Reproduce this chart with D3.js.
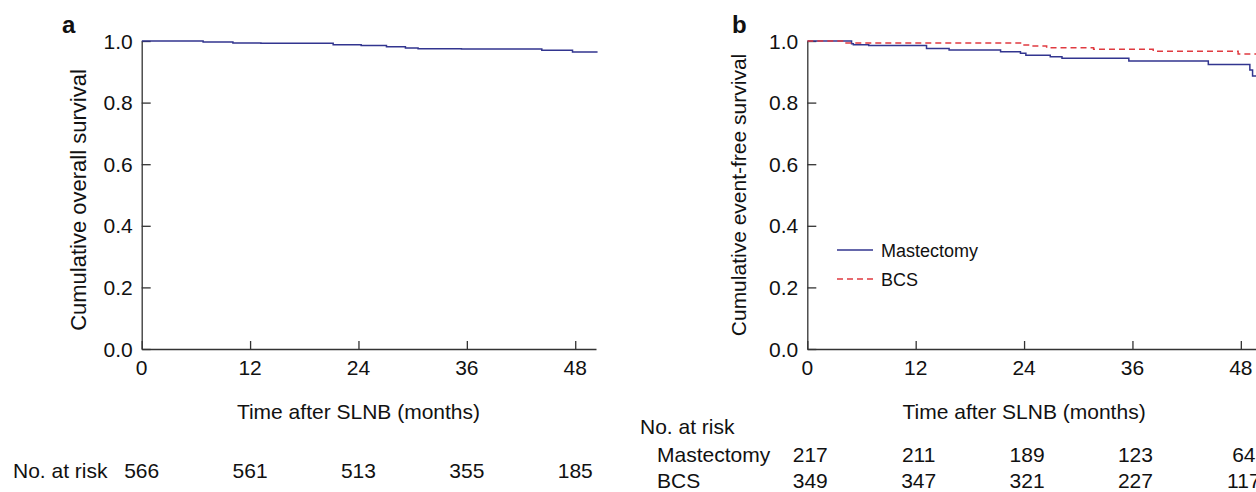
<!DOCTYPE html>
<html>
<head>
<meta charset="utf-8">
<script src="https://cdn.jsdelivr.net/npm/d3@7"></script>
<style>
  body { margin: 0; background: #fff; }
  svg text { font-family: "Liberation Sans", Arial, Helvetica, sans-serif; fill: #111; }
  .axis path, .axis line { stroke: #333; stroke-width: 1.3; }
</style>
</head>
<body>
<svg id="chart" width="1256" height="492"></svg>
<script>
// ----- Data ------------------------------------------------------------------
var TICKS_X = [0, 12, 24, 36, 48];
var TICKS_Y = [0, 0.2, 0.4, 0.6, 0.8, 1.0];

// Kaplan-Meier steps: [month, survival]
var OVERALL = [[0, 1], [6.8, 0.997], [10.1, 0.9935], [13.2, 0.9925], [21.2, 0.988],
  [24.3, 0.985], [27.1, 0.9815], [29.2, 0.977], [30.6, 0.975], [35.4, 0.974],
  [44.3, 0.970], [47.7, 0.964], [50.5, 0.964]];

var MASTECTOMY = [[0, 1], [4.9, 0.991], [5.1, 0.988], [6.8, 0.985], [13.2, 0.976],
  [15.7, 0.971], [21.4, 0.965], [23.6, 0.960], [24.2, 0.9535], [26.9, 0.949],
  [28.2, 0.944], [35.6, 0.935], [44.4, 0.924], [49.0, 0.906], [49.3, 0.886], [51, 0.886]];

var BCS = [[0, 1], [4.2, 0.9935], [23.9, 0.987], [24.7, 0.984], [26.5, 0.978],
  [31.7, 0.973], [38.3, 0.9665], [47.7, 0.958], [51, 0.958]];

var RISK_ALL = [566, 561, 513, 355, 185];
var RISK_MAST = [217, 211, 189, 123, 64];
var RISK_BCS = [349, 347, 321, 227, 117];

var BLUE = '#32358f';
var RED = '#e03a40';
var FS = 21;

var svg = d3.select('#chart');

function panel(opts) {
  var x = d3.scaleLinear().domain([0, 50.3]).range([opts.left, opts.left + 454.3]);
  var y = d3.scaleLinear().domain([0, 1]).range([349, 41]);
  var g = svg.append('g');

  var clip = 'clip-' + opts.letter;
  g.append('clipPath').attr('id', clip)
    .append('rect').attr('x', opts.left).attr('y', 30).attr('width', 456).attr('height', 330);

  g.append('g')
      .attr('class', 'axis')
      .attr('transform', 'translate(0,349)')
      .call(d3.axisTop(x).tickValues(TICKS_X).tickSize(8).tickSizeOuter(0).tickFormat(''));
  g.append('g')
      .attr('class', 'axis')
      .attr('transform', 'translate(' + opts.left + ',0)')
      .call(d3.axisRight(y).tickValues(TICKS_Y).tickSize(9).tickSizeOuter(0).tickFormat(''));

  g.selectAll('.xlab')
      .data(TICKS_X)
    .enter().append('text')
      .attr('x', (d) => x(d))
      .attr('y', 375)
      .attr('text-anchor', 'middle')
      .attr('font-size', FS)
      .text((d) => d);

  g.selectAll('.ylab')
      .data(TICKS_Y)
    .enter().append('text')
      .attr('x', opts.left - 9)
      .attr('y', (d) => y(d) + 7.5)
      .attr('text-anchor', 'end')
      .attr('font-size', FS)
      .text((d) => d.toFixed(1));

  g.append('text')
      .attr('x', x(24))
      .attr('y', 419)
      .attr('text-anchor', 'middle')
      .attr('font-size', FS)
      .text('Time after SLNB (months)');

  g.append('text')
      .attr('transform', 'translate(' + opts.ylabX + ',' + opts.ylabY + ') rotate(-90)')
      .attr('text-anchor', 'middle')
      .attr('font-size', opts.ylabSize)
      .text(opts.ylabel);

  g.append('text')
      .attr('x', opts.letterX)
      .attr('y', 33)
      .attr('font-size', 24)
      .attr('font-weight', 'bold')
      .text(opts.letter);

  var line = d3.line()
      .x((d) => x(d[0]))
      .y((d) => y(d[1]))
      .curve(d3.curveStepAfter);

  opts.series.forEach(function (s) {
    g.append('path')
        .datum(s.data)
        .attr('clip-path', 'url(#' + clip + ')')
        .attr('fill', 'none')
        .attr('stroke', s.color)
        .attr('stroke-width', 1.5)
        .attr('stroke-dasharray', s.dash || null)
        .attr('d', line);
  });

  return x;
}

var xa = panel({
  left: 141.7, letter: 'a', letterX: 62, ylabX: 86, ylabY: 200, ylabSize: 22,
  ylabel: 'Cumulative overall survival',
  series: [{ data: OVERALL, color: BLUE }]
});

var xb = panel({
  left: 807.3, letter: 'b', letterX: 732, ylabX: 746, ylabY: 195, ylabSize: FS,
  ylabel: 'Cumulative event-free survival',
  series: [{ data: MASTECTOMY, color: BLUE }, { data: BCS, color: RED, dash: '6,4' }]
});

// ----- Legend (panel b) -----------------------------------------------------
var legend = [{ name: 'Mastectomy', color: BLUE }, { name: 'BCS', color: RED, dash: '6,4' }];
legend.forEach(function (d, i) {
  var ly = 250 + i * 29;
  svg.append('line')
      .attr('x1', 837).attr('x2', 873).attr('y1', ly).attr('y2', ly)
      .attr('stroke', d.color).attr('stroke-width', 1.4)
      .attr('stroke-dasharray', d.dash || null);
  svg.append('text')
      .attr('x', 881).attr('y', ly + 6.5)
      .attr('font-size', 18)
      .text(d.name);
});

// ----- Numbers at risk ------------------------------------------------------
svg.append('text').attr('x', 13).attr('y', 478).attr('font-size', FS).text('No. at risk');
svg.selectAll('.riskA')
    .data(RISK_ALL)
  .enter().append('text')
    .attr('x', (d, i) => xa(TICKS_X[i]))
    .attr('y', 478)
    .attr('text-anchor', 'middle')
    .attr('font-size', FS)
    .text((d) => d);

svg.append('text').attr('x', 640).attr('y', 434).attr('font-size', FS).text('No. at risk');
[['Mastectomy', RISK_MAST, 462], ['BCS', RISK_BCS, 488]].forEach(function (row) {
  svg.append('text').attr('x', 657).attr('y', row[2]).attr('font-size', FS).text(row[0]);
  svg.selectAll(null)
      .data(row[1])
    .enter().append('text')
      .attr('x', (d, i) => xb(TICKS_X[i]) + 3)
      .attr('y', row[2])
      .attr('text-anchor', 'middle')
      .attr('font-size', FS)
      .text((d) => d);
});
</script>
</body>
</html>
